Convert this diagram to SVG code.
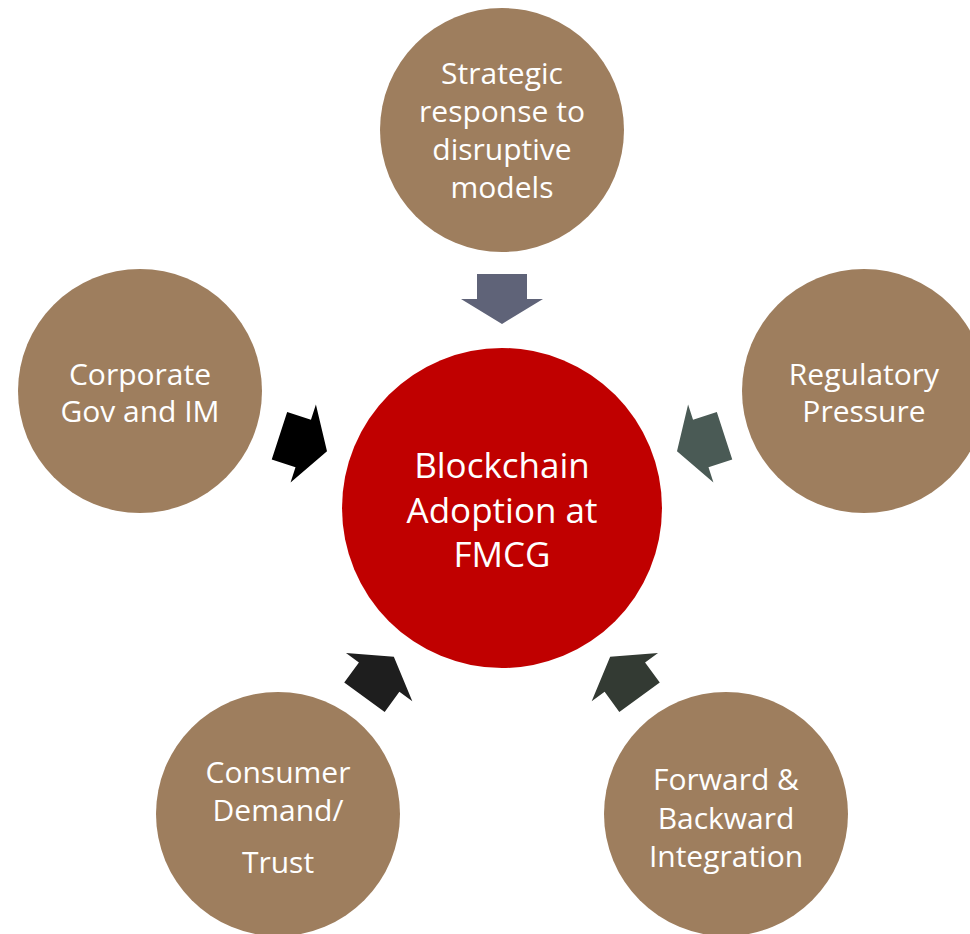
<svg xmlns="http://www.w3.org/2000/svg" width="970" height="934" viewBox="0 0 970 934">
<style>
.n{fill:#9e7e5e}
.t{fill:#ffffff;font-family:"Open Sans","Noto Sans",sans-serif;font-size:30px;text-anchor:middle}
.c{font-size:35px}
</style>
<defs>
<path id="arr" d="M477,274 H527 V299 H543 L502,324 L461,299 H477 Z"/>
</defs>
<rect width="970" height="934" fill="#ffffff"/>
<g id="center">
<circle cx="502" cy="508" r="160" fill="#c00000"/>
<text class="t c" x="502" y="478">Blockchain</text>
<text class="t c" x="502" y="523">Adoption at</text>
<text class="t c" x="502" y="567">FMCG</text>
</g>
<g id="n-top">
<circle class="n" cx="502" cy="130" r="122"/>
<text class="t" x="502" y="84">Strategic</text>
<text class="t" x="502" y="122">response to</text>
<text class="t" x="502" y="160">disruptive</text>
<text class="t" x="502" y="198">models</text>
</g>
<g id="n-left">
<circle class="n" cx="140" cy="391" r="122"/>
<text class="t" x="140" y="385">Corporate</text>
<text class="t" x="140" y="422">Gov and IM</text>
</g>
<g id="n-right">
<circle class="n" cx="864" cy="391" r="122"/>
<text class="t" x="864" y="385">Regulatory</text>
<text class="t" x="864" y="422">Pressure</text>
</g>
<g id="n-bl">
<circle class="n" cx="278" cy="814" r="122"/>
<text class="t" x="278" y="783">Consumer</text>
<text class="t" x="278" y="821">Demand/</text>
<text class="t" x="278" y="873">Trust</text>
</g>
<g id="n-br">
<circle class="n" cx="726" cy="814" r="122"/>
<text class="t" x="726" y="790">Forward &amp;</text>
<text class="t" x="726" y="829">Backward</text>
<text class="t" x="726" y="867">Integration</text>
</g>
<g id="connectors">
<use href="#arr" fill="#5f6378"/>
<use href="#arr" fill="#4a5a55" transform="rotate(72 502 508)"/>
<use href="#arr" fill="#333a33" transform="rotate(144 502 508)"/>
<use href="#arr" fill="#1e1e1e" transform="rotate(-144 502 508)"/>
<use href="#arr" fill="#000000" transform="rotate(-72 502 508)"/>
</g>
</svg>
